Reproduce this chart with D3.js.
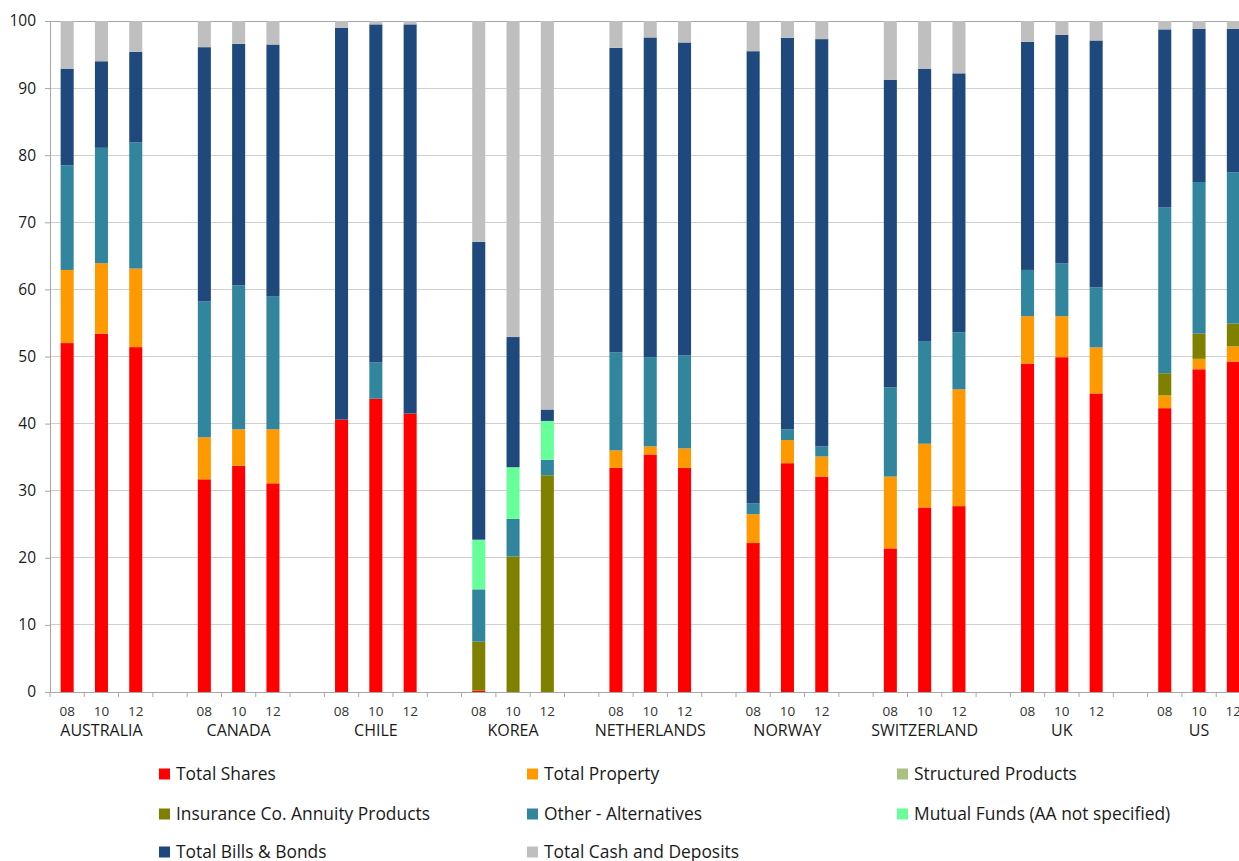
<!DOCTYPE html>
<html>
<head>
<meta charset="utf-8">
<script src="https://cdn.jsdelivr.net/npm/d3@7"></script>
<style>
  body { margin: 0; background: #fff; }
  svg { display: block; font-family: "Open Sans", sans-serif; }
</style>
</head>
<body>
<div id="vis"></div>
<script>
// ── DATA ─────────────────────────────────────────────────────────────────────
const countries = ["AUSTRALIA", "CANADA", "CHILE", "KOREA", "NETHERLANDS", "NORWAY", "SWITZERLAND", "UK", "US"];
const years     = ["08", "10", "12"];
const yTicks    = [0, 10, 20, 30, 40, 50, 60, 70, 80, 90, 100];

// one value per country x year, in the order of countries then years
const shares      = [52.0, 53.4, 51.4,  31.7, 33.7, 31.1,  40.6, 43.7, 41.5,  0.2, 0, 0,
                     33.4, 35.4, 33.4,  22.2, 34.1, 32.1,  21.4, 27.5, 27.7,  48.95, 49.9, 44.5,  42.3, 48.1, 49.25];
const property    = [10.9, 10.5, 11.7,  6.25, 5.45, 8.05,  0, 0, 0,  0, 0, 0,
                     2.6, 1.2, 2.9,  4.3, 3.45, 3.0,  10.7, 9.5, 17.4,  7.05, 6.1, 6.85,  1.9, 1.55, 2.25];
const structured  = [0, 0, 0,  0, 0, 0,  0, 0, 0,  0, 0, 0,
                     0, 0, 0,  0, 0, 0,  0, 0, 0,  0, 0, 0,  0, 0, 0];
const insurance   = [0, 0, 0,  0, 0, 0,  0, 0, 0,  7.3, 20.2, 32.3,
                     0, 0, 0,  0, 0, 0,  0, 0, 0,  0, 0, 0,  3.3, 3.75, 3.4];
const alternatives= [15.6, 17.2, 18.8,  20.25, 21.45, 19.85,  0, 5.4, 0,  7.8, 5.6, 2.3,
                     14.6, 13.3, 13.85,  1.6, 1.6, 1.5,  13.3, 15.3, 8.5,  6.9, 7.9, 8.95,  24.7, 22.6, 22.55];
const mutualFunds = [0, 0, 0,  0, 0, 0,  0, 0, 0,  7.4, 7.7, 5.8,
                     0, 0, 0,  0, 0, 0,  0, 0, 0,  0, 0, 0,  0, 0, 0];
const bonds       = [14.4, 12.9, 13.5,  37.9, 36.0, 37.5,  58.4, 50.4, 58.0,  44.4, 19.4, 1.7,
                     45.4, 47.65, 46.65,  67.4, 58.35, 60.7,  45.85, 40.6, 38.6,  34.0, 34.05, 36.8,  26.55, 22.85, 21.4];
const cash        = [7.1, 6.0, 4.6,  3.9, 3.4, 3.5,  1.0, 0.5, 0.5,  32.9, 47.1, 57.9,
                     4.0, 2.45, 3.2,  4.5, 2.5, 2.7,  8.75, 7.1, 7.8,  3.1, 2.05, 2.9,  1.25, 1.15, 1.15];

const seriesNames  = ["Total Shares", "Total Property", "Structured Products", "Insurance Co. Annuity Products",
                      "Other - Alternatives", "Mutual Funds (AA not specified)", "Total Bills & Bonds", "Total Cash and Deposits"];
const seriesValues = [shares, property, structured, insurance, alternatives, mutualFunds, bonds, cash];
const seriesColors = ["#ff0000", "#ff9900", "#a9c17f", "#808000", "#31859c", "#66ff99", "#1f497d", "#bfbfbf"];

// ── CONFIG ───────────────────────────────────────────────────────────────────
const width  = 1239;
const height = 861;
const plotLeft   = 50;
const plotTop    = 21;
const plotBottom = 692;
const slot       = 34.3;          // one bar slot, 4 slots per country (3 bars + gap)

// table for d3.stack
const table = [];
countries.forEach((c, ci) => years.forEach((yr, yi) => {
  const row = { country: c, year: yr };
  seriesNames.forEach((s, si) => row[s] = seriesValues[si][ci * 3 + yi]);
  table.push(row);
}));

const stack = d3.stack().keys(seriesNames)(table);

// ── SCALES ───────────────────────────────────────────────────────────────────
const x0 = d3.scaleBand()
    .domain(countries)
    .range([plotLeft, plotLeft + countries.length * slot * 4]);
const x1 = d3.scaleBand()
    .domain(years)
    .range([0, slot * 3])
    .paddingInner(0.62)
    .paddingOuter(0.31);
const y = d3.scaleLinear([0, 100], [plotBottom, plotTop]);
const color = d3.scaleOrdinal(seriesNames, seriesColors);

const svg = d3.select("#vis").append("svg")
    .attr("width", width)
    .attr("height", height)
    .attr("viewBox", [0, 0, width, height]);

// gridlines
svg.append("g")
  .selectAll("line")
  .data(yTicks.filter(d => d > 0))
  .join("line")
    .attr("x1", plotLeft).attr("x2", width)
    .attr("y1", d => y(d)).attr("y2", d => y(d))
    .attr("stroke", d => d === 100 ? "#a6a6a6" : "#cfcfcf")
    .attr("shape-rendering", "crispEdges");

// y axis
const yAxis = svg.append("g")
    .attr("transform", `translate(${plotLeft},0)`)
    .call(d3.axisLeft(y).tickValues(yTicks).tickSize(5).tickPadding(9));
yAxis.select(".domain").attr("stroke", "#a6a6a6");
yAxis.selectAll(".tick line").attr("stroke", "#a6a6a6");
yAxis.selectAll(".tick text")
    .attr("fill", "#1a1a1a")
    .style("font-size", "15.5px")
    .style("font-family", "'Open Sans', sans-serif");

// bars
svg.append("g")
  .selectAll("g")
  .data(stack)
  .join("g")
    .attr("fill", d => color(d.key))
  .selectAll("rect")
  .data(d => d.filter(p => p[1] - p[0] > 0))
  .join("rect")
    .attr("x", d => x0(d.data.country) + x1(d.data.year))
    .attr("width", x1.bandwidth())
    .attr("y", d => y(d[1]))
    .attr("height", d => y(d[0]) - y(d[1]));

// x axis line + slot ticks
const xAxis = svg.append("g");
xAxis.append("line")
    .attr("x1", plotLeft).attr("x2", width)
    .attr("y1", y(0)).attr("y2", y(0))
    .attr("stroke", "#a6a6a6")
    .attr("shape-rendering", "crispEdges");
xAxis.selectAll(".slot")
  .data(countries.flatMap(c => d3.range(4).map(k => x0(c) + k * x0.step() / 4)))
  .join("line")
    .attr("class", "slot")
    .attr("x1", d => d).attr("x2", d => d)
    .attr("y1", y(0)).attr("y2", y(0) + 5)
    .attr("stroke", "#a6a6a6");

// year labels
xAxis.selectAll(".yr")
  .data(countries.flatMap(c => years.map(yr => ({ c, yr }))))
  .join("text")
    .attr("class", "yr")
    .attr("x", d => x0(d.c) + x1(d.yr) + x1.bandwidth() / 2)
    .attr("y", 711)
    .attr("dy", "0.35em")
    .attr("text-anchor", "middle")
    .attr("fill", "#333")
    .style("font-size", "13.5px")
    .text(d => d.yr);

// country labels
xAxis.selectAll(".country")
  .data(countries)
  .join("text")
    .attr("class", "country")
    .attr("x", d => x0(d) + x1("10") + x1.bandwidth() / 2)
    .attr("y", 730)
    .attr("dy", "0.35em")
    .attr("text-anchor", "middle")
    .attr("fill", "#1a1a1a")
    .style("font-size", "16px")
    .text(d => d);

// ── LEGEND ───────────────────────────────────────────────────────────────────
const legendCols = [159, 527, 897];
const legendRows = [774, 814, 852];
const legend = svg.append("g")
  .selectAll("g")
  .data(seriesNames)
  .join("g")
    .attr("transform", (d, i) => `translate(${legendCols[i % 3]},${legendRows[Math.floor(i / 3)]})`);
legend.append("rect")
    .attr("x", 0).attr("y", -5.5)
    .attr("width", 11).attr("height", 11)
    .attr("fill", d => color(d));
legend.append("text")
    .attr("x", 17)
    .attr("dy", "0.35em")
    .attr("fill", "#1a1a1a")
    .style("font-size", "17.4px")
    .text(d => d);
</script>
</body>
</html>
